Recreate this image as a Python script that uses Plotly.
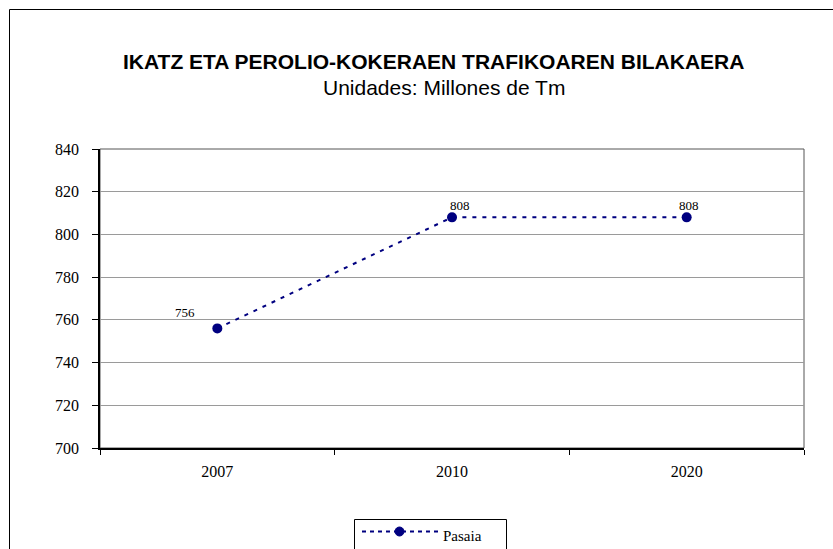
import plotly.graph_objects as go

# Data
years = ["2007", "2010", "2020"]
pasaia = [756, 808, 808]
y_ticks = [700, 720, 740, 760, 780, 800, 820, 840]

W, H = 833, 549
L, R, T, B = 100, 29, 149, 101
PW, PH = W - L - R, H - T - B


def px_x(px):
    return (px - L) / PW


def px_y(py):
    return (H - B - py) / PH


NAVY = "#000080"
SERIF = "Liberation Serif, Times New Roman, serif"
SANS = "Liberation Sans, Arial, sans-serif"

fig = go.Figure()
fig.add_trace(go.Scatter(
    x=years, y=pasaia, mode="lines+markers", name="Pasaia",
    line=dict(color=NAVY, width=2, dash="4px,6px"),
    marker=dict(color=NAVY, size=10, symbol="circle"),
    showlegend=False, cliponaxis=False,
))

# value labels (category index used as x position)
offsets = [(-32, 16), (8, 12), (2, 12)]
for i, (v, (dx, dy)) in enumerate(zip(pasaia, offsets)):
    fig.add_annotation(x=i, y=v, text=str(v), showarrow=False,
                       xshift=dx, yshift=dy,
                       font=dict(family=SERIF, size=13, color="black"))

# titles
fig.add_annotation(xref="paper", yref="paper", x=px_x(433), y=px_y(62),
                   text="<b>IKATZ ETA PEROLIO-KOKERAEN TRAFIKOAREN BILAKAERA</b>",
                   showarrow=False, xanchor="center", yanchor="middle",
                   font=dict(family=SANS, size=21, color="black"))
fig.add_annotation(xref="paper", yref="paper", x=px_x(444), y=px_y(88),
                   text="Unidades: Millones de Tm",
                   showarrow=False, xanchor="center", yanchor="middle",
                   font=dict(family=SANS, size=21, color="black"))

shapes = []
# outer frame
shapes.append(dict(type="rect", xref="paper", yref="paper",
                   x0=px_x(9.5), x1=px_x(845), y0=px_y(9.5), y1=px_y(560),
                   line=dict(color="black", width=1), layer="below"))
# plot-area border (top/right)
shapes.append(dict(type="rect", xref="paper", yref="paper",
                   x0=0, x1=1, y0=0, y1=1,
                   line=dict(color="#555555", width=1), layer="below"))
# legend box
shapes.append(dict(type="rect", xref="paper", yref="paper",
                   x0=px_x(354.5), x1=px_x(506.5), y0=px_y(519.5), y1=px_y(556),
                   line=dict(color="black", width=1), fillcolor="white"))
# legend line sample
shapes.append(dict(type="line", xref="paper", yref="paper",
                   x0=px_x(362), x1=px_x(440), y0=px_y(531.5), y1=px_y(531.5),
                   line=dict(color=NAVY, width=2, dash="4px,4px")))
shapes.append(dict(type="circle", xref="paper", yref="paper",
                   x0=px_x(395), x1=px_x(404), y0=px_y(527), y1=px_y(536),
                   line=dict(color=NAVY, width=1), fillcolor=NAVY))
fig.add_annotation(xref="paper", yref="paper", x=px_x(441), y=px_y(536),
                   text="Pasaia", showarrow=False, xanchor="left", yanchor="middle",
                   font=dict(family=SERIF, size=15, color="black"))

fig.update_layout(
    width=W, height=H,
    margin=dict(l=L, r=R, t=T, b=B, pad=0),
    paper_bgcolor="white", plot_bgcolor="white",
    shapes=shapes,
    showlegend=False,
)
fig.update_xaxes(
    type="category", range=[-0.5, 2.5], tickson="boundaries",
    ticks="outside", ticklen=5, tickcolor="black", tickwidth=1,
    showline=True, linecolor="black", linewidth=1.5,
    showgrid=False, zeroline=False,
    ticklabelstandoff=8,
    tickfont=dict(family=SERIF, size=16, color="black"),
)
fig.update_yaxes(
    range=[700, 840], tickvals=y_ticks,
    ticks="outside", ticklen=6, tickcolor="black", tickwidth=1,
    showline=True, linecolor="black", linewidth=1.5,
    showgrid=True, gridcolor="#9a9a9a", gridwidth=1, zeroline=False,
    ticklabelstandoff=10,
    tickfont=dict(family=SERIF, size=16, color="black"),
)

fig.write_html("out.html")
